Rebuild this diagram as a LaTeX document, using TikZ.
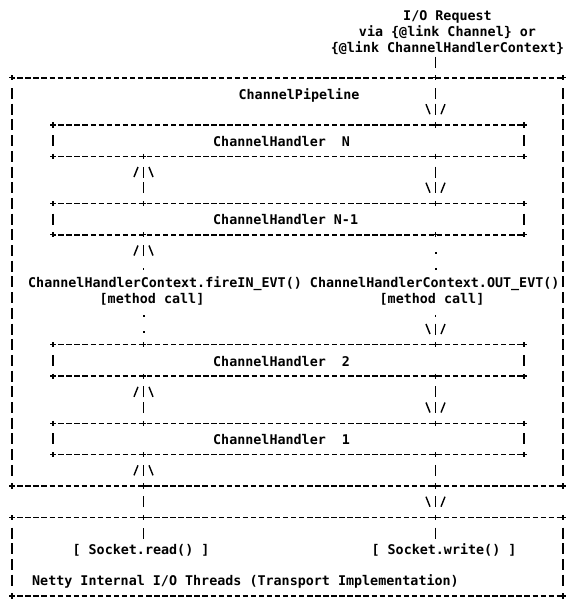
\documentclass[tikz,border=0pt]{standalone}
\usepackage{fontspec}
\setmonofont{DejaVu Sans Mono}
\usetikzlibrary{calc, decorations.markings}

\tikzset{
  txt/.style={font=\ttfamily\bfseries\fontsize{13.37pt}{15.7pt}\selectfont, inner sep=0pt, anchor=mid, yshift=-3.5pt},
  box/.style={inner sep=0pt, outer sep=0pt},
  handler/.style={box, minimum width=471pt, minimum height=31.4pt,
    label={[txt, anchor=mid west, xshift=160pt]west:#1}},
  hdash/.style={line width=1.4pt, dash pattern=on 5.4pt off 2.65pt, dash phase=2.75pt},
  vbar/.style={line width=1.8pt, dash pattern=on 11pt off 4.7pt},
  junction/.style={line width=1.3pt},
  barbs/.style={postaction={decorate, decoration={markings,
    mark=at position 1 with {\draw[solid, line width=1.4pt] (-10.5pt,9.5pt) -- (-0.5pt,5.5pt) (-10.5pt,-9.5pt) -- (-0.5pt,-5.5pt);}}}}
}

\begin{document}
\begin{tikzpicture}[x=1pt, y=-1pt]
  \useasboundingbox (0,0) rectangle (568,606);
  \coordinate (lcol) at (143.5,0);
  \coordinate (rcol) at (435.5,0);

  % Nodes
  \node[txt] (request) at (447.5,15) {I/O Request};
  \node[txt] (via) at (447.5,30.7) {via \{@link Channel\} or};
  \node[txt] (ctx) at (447.5,46.4) {\{@link ChannelHandlerContext\}};
  \node[box, minimum width=551pt, minimum height=408.2pt] (pipeline) at (287.5,281.9) {};
  \node[txt] (pipelineLabel) at (299,93.5) {ChannelPipeline};
  \node[handler={ChannelHandler\ \ N}] (handlerN) at (288.5,140.6) {};
  \node[handler={ChannelHandler N-1}] (handlerNm1) at (288.5,219.1) {};
  \node[txt, anchor=mid west] (fireIn) at (28,281.9) {ChannelHandlerContext.fireIN\_EVT()};
  \node[txt, anchor=mid west] (outEvt) at (309.75,281.9) {ChannelHandlerContext.OUT\_EVT()};
  \node[txt] (callIn) at (152,297.6) {[method call]};
  \node[txt] (callOut) at (432,297.6) {[method call]};
  \node[handler={ChannelHandler\ \ 2}] (handler2) at (288.5,360.4) {};
  \node[handler={ChannelHandler\ \ 1}] (handler1) at (288.5,438.9) {};
  \node[box, minimum width=551pt, minimum height=78.5pt] (transport) at (287.5,556.65) {};
  \node[txt] (sockRead) at (141,548.8) {[ Socket.read() ]};
  \node[txt] (sockWrite) at (444,548.8) {[ Socket.write() ]};
  \node[txt, anchor=mid west] (netty) at (32,580.2) {Netty Internal I/O Threads (Transport Implementation)};

  % Box borders
  \foreach \b in {pipeline, transport, handlerN, handlerNm1, handler2, handler1} {
    \draw[hdash] (\b.north west) -- (\b.north east);
    \draw[hdash] (\b.south west) -- (\b.south east);
    \draw[vbar] ($(\b.north west)+(0,10.2)$) -- ($(\b.south west)+(0,-10.2)$);
    \draw[vbar] ($(\b.north east)+(0,10.2)$) -- ($(\b.south east)+(0,-10.2)$);
    \foreach \c in {north west, north east, south west, south east}
      \draw[junction] (\b.\c) +(-2.6,0) -- +(2.6,0) +(0,-2.6) -- +(0,2.6);
  }
  \foreach \p/\c in {pipeline.north/rcol, handlerN.north/rcol, handlerN.south/lcol, handlerN.south/rcol,
      handlerNm1.north/lcol, handlerNm1.north/rcol, handlerNm1.south/lcol, handlerNm1.south/rcol,
      handler2.north/lcol, handler2.north/rcol, handler2.south/lcol, handler2.south/rcol,
      handler1.north/lcol, handler1.north/rcol, handler1.south/lcol, handler1.south/rcol,
      pipeline.south/lcol, pipeline.south/rcol, transport.north/lcol, transport.north/rcol}
    \draw[junction] (\c |- \p) +(-2.6,0) -- +(2.6,0) +(0,-2.6) -- +(0,2.6);

  % Edges: outbound (down)
  \draw[vbar] ($(rcol |- pipeline.north)+(0,-21.2)$) -- ($(rcol |- pipeline.north)+(0,-10.2)$);
  \draw[vbar, barbs] ($(rcol |- pipeline.north)+(0,10.2)$) -- ($(rcol |- handlerN.north)+(0,-10.2)$);
  \draw[vbar, barbs] ($(rcol |- handlerN.south)+(0,10.2)$) -- ($(rcol |- handlerNm1.north)+(0,-10.2)$);
  \draw[vbar, line width=2pt, dash pattern=on 2pt off 13.7pt] ($(rcol |- handlerNm1.south)+(0,17.3)$) -- ($(rcol |- handlerNm1.south)+(0,35)$);
  \draw[vbar, barbs, dash pattern=on 2pt off 6.6pt on 11pt off 4.7pt] ($(rcol |- handler2.north)+(0,-29.8)$) -- ($(rcol |- handler2.north)+(0,-10.2)$);
  \draw[vbar, barbs] ($(rcol |- handler2.south)+(0,10.2)$) -- ($(rcol |- handler1.north)+(0,-10.2)$);
  \draw[vbar] ($(rcol |- handler1.south)+(0,10.2)$) -- ($(rcol |- pipeline.south)+(0,-10.2)$);
  \draw[vbar, barbs] ($(rcol |- pipeline.south)+(0,10.2)$) -- ($(rcol |- transport.north)+(0,-10.2)$);
  \draw[vbar] ($(rcol |- transport.north)+(0,10.2)$) -- ++(0,11);

  % Edges: inbound (up)
  \draw[vbar] ($(lcol |- transport.north)+(0,21.2)$) -- ($(lcol |- transport.north)+(0,10.2)$);
  \draw[vbar] ($(lcol |- transport.north)+(0,-10.2)$) -- ($(lcol |- pipeline.south)+(0,10.2)$);
  \draw[vbar, barbs] ($(lcol |- pipeline.south)+(0,-10.2)$) -- ($(lcol |- handler1.south)+(0,10.2)$);
  \draw[vbar, barbs] ($(lcol |- handler1.north)+(0,-10.2)$) -- ($(lcol |- handler2.south)+(0,10.2)$);
  \draw[vbar, line width=2pt, dash pattern=on 2pt off 13.7pt] ($(lcol |- handler2.north)+(0,-12.1)$) -- ($(lcol |- handler2.north)+(0,-29.8)$);
  \draw[vbar, barbs, dash pattern=on 2pt off 11.8pt on 11pt off 4.7pt] ($(lcol |- handlerNm1.south)+(0,35)$) -- ($(lcol |- handlerNm1.south)+(0,10.2)$);
  \draw[vbar, barbs] ($(lcol |- handlerNm1.north)+(0,-10.2)$) -- ($(lcol |- handlerN.south)+(0,10.2)$);
\end{tikzpicture}
\end{document}
